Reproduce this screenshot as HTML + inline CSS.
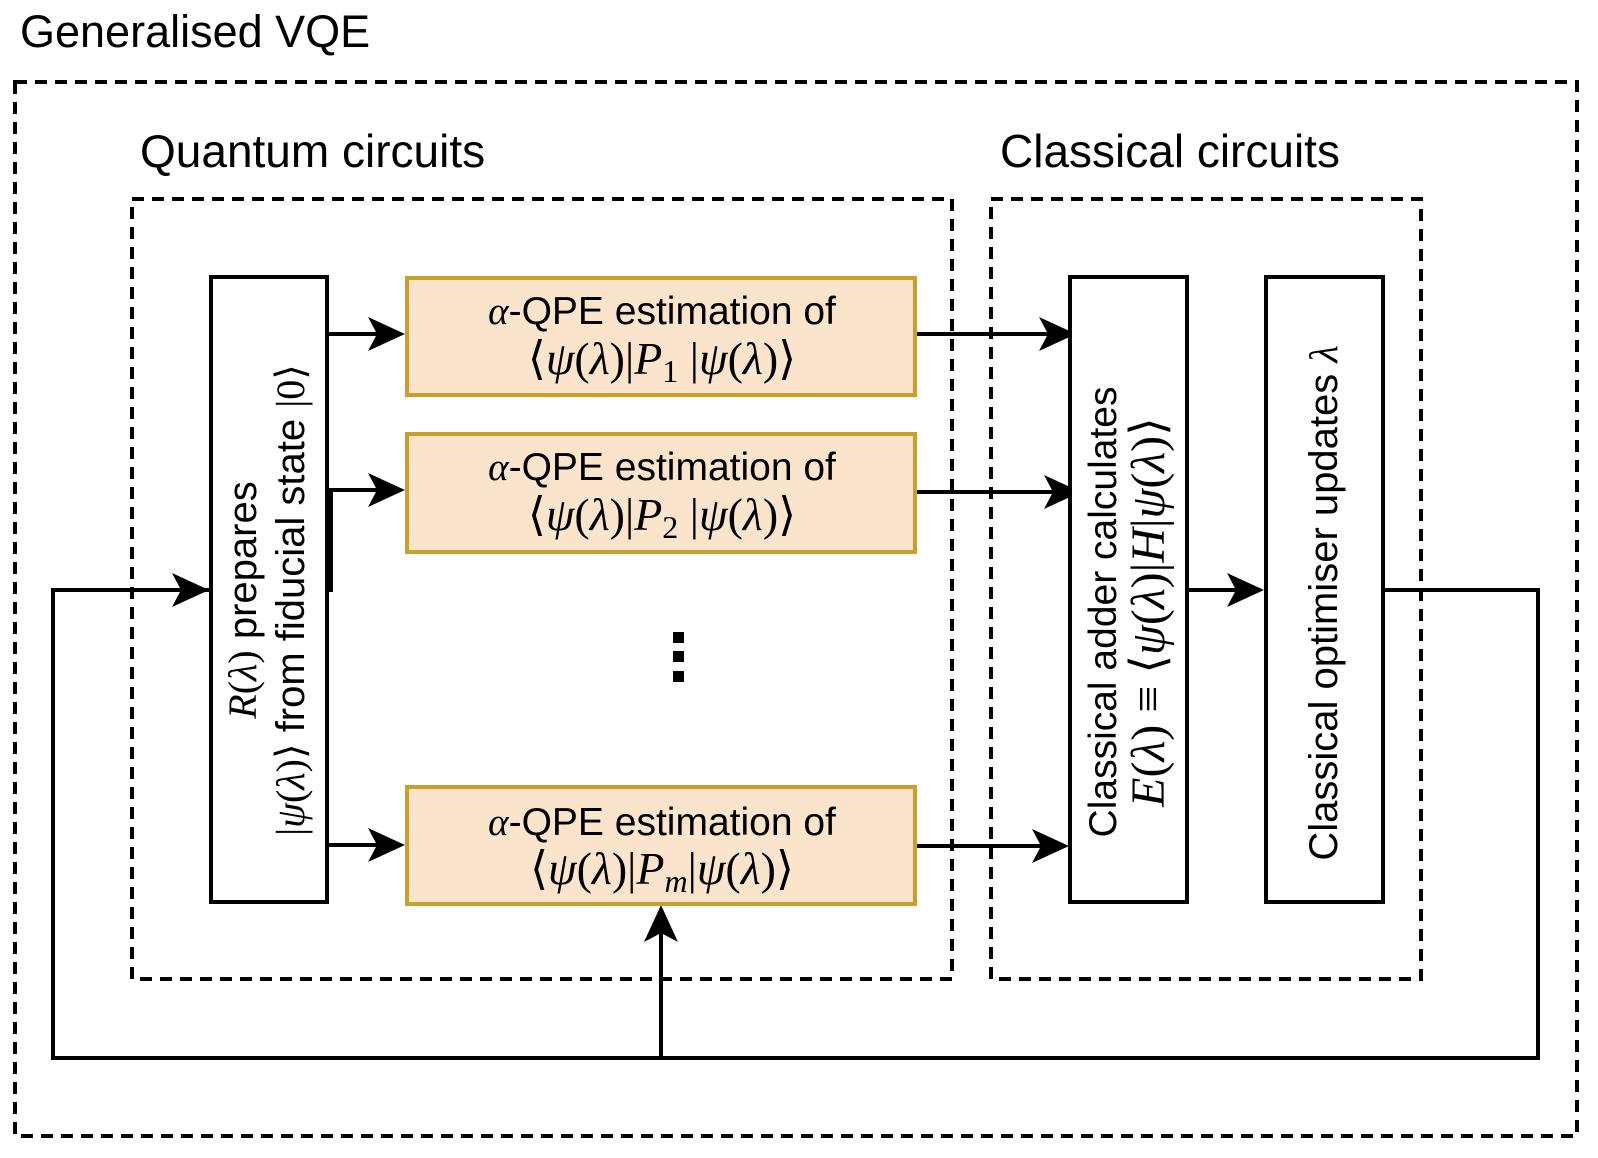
<!DOCTYPE html>
<html><head><meta charset="utf-8"><style>
html,body{margin:0;padding:0;background:#fff}
svg{display:block}
.s{font-family:"Liberation Sans",sans-serif}
.m{font-family:"Liberation Serif","DejaVu Serif",serif}
</style></head><body>
<svg width="1598" height="1158" viewBox="0 0 1598 1158" xmlns="http://www.w3.org/2000/svg">
<text x="20" y="47" class="s" font-size="45">Generalised VQE</text>
<rect x="15" y="82" width="1562" height="1054" fill="none" stroke="#000" stroke-width="4" stroke-dasharray="12 8"/>
<text x="140" y="167" class="s" font-size="46">Quantum circuits</text>
<text x="1000" y="167" class="s" font-size="46">Classical circuits</text>
<rect x="132" y="199" width="820" height="780" fill="none" stroke="#000" stroke-width="4" stroke-dasharray="12 8"/>
<rect x="991" y="199" width="430" height="780" fill="none" stroke="#000" stroke-width="4" stroke-dasharray="12 8"/>

<!-- loop -->
<polyline points="209,590 53,590 53,1058 1538,1058 1538,590 1385,590" fill="none" stroke="#000" stroke-width="4"/>
<line x1="661" y1="1058" x2="661" y2="915" stroke="#000" stroke-width="4"/>
<polygon points="661,905 644,942 661,933 678,942" fill="#000"/>
<polygon points="209,590 172,573 181,590 172,607" fill="#000"/>

<!-- R box -->
<rect x="211" y="277" width="116" height="625" fill="#fff" stroke="#000" stroke-width="4"/>
<g transform="translate(268,600) rotate(-90)">
<text x="0" y="-12" text-anchor="middle" font-size="40"><tspan class="m" font-style="italic">R</tspan><tspan class="m">(</tspan><tspan class="m" font-style="italic">λ</tspan><tspan class="m">)</tspan><tspan class="s"> prepares</tspan></text>
<text x="0" y="36" text-anchor="middle" font-size="40"><tspan class="m">|</tspan><tspan class="m" font-style="italic">ψ</tspan><tspan class="m">(</tspan><tspan class="m" font-style="italic">λ</tspan><tspan class="m">)⟩</tspan><tspan class="s"> from fiducial state </tspan><tspan class="m">|0⟩</tspan></text>
</g>

<!-- arrows R -> boxes -->
<line x1="329" y1="334" x2="395" y2="334" stroke="#000" stroke-width="4"/>
<polygon points="405,334 368,317 377,334 368,351" fill="#000"/>
<polyline points="331,592 331,490 395,490" fill="none" stroke="#000" stroke-width="4"/>
<polygon points="405,490 368,473 377,490 368,507" fill="#000"/>
<line x1="329" y1="845" x2="395" y2="845" stroke="#000" stroke-width="4"/>
<polygon points="405,845 368,828 377,845 368,862" fill="#000"/>

<!-- orange boxes -->
<g fill="#fae5cc" stroke="#cc9e2b" stroke-width="4">
<rect x="407" y="278" width="508" height="117"/>
<rect x="407" y="434" width="508" height="118"/>
<rect x="407" y="787" width="508" height="117"/>
</g>
<g text-anchor="middle">
<text x="662" y="324" font-size="39"><tspan class="m" font-style="italic">α</tspan><tspan class="s">-QPE estimation of</tspan></text>
<text x="662" y="374" class="m" font-size="46">⟨<tspan font-style="italic">ψ</tspan>(<tspan font-style="italic">λ</tspan>)|<tspan font-style="italic">P</tspan><tspan font-size="32" dy="8">1</tspan><tspan dy="-8"> |</tspan><tspan font-style="italic">ψ</tspan>(<tspan font-style="italic">λ</tspan>)⟩</text>
<text x="662" y="480" font-size="39"><tspan class="m" font-style="italic">α</tspan><tspan class="s">-QPE estimation of</tspan></text>
<text x="662" y="530" class="m" font-size="46">⟨<tspan font-style="italic">ψ</tspan>(<tspan font-style="italic">λ</tspan>)|<tspan font-style="italic">P</tspan><tspan font-size="32" dy="8">2</tspan><tspan dy="-8"> |</tspan><tspan font-style="italic">ψ</tspan>(<tspan font-style="italic">λ</tspan>)⟩</text>
<text x="662" y="835" font-size="39"><tspan class="m" font-style="italic">α</tspan><tspan class="s">-QPE estimation of</tspan></text>
<text x="662" y="884" class="m" font-size="46">⟨<tspan font-style="italic">ψ</tspan>(<tspan font-style="italic">λ</tspan>)|<tspan font-style="italic">P</tspan><tspan font-size="32" font-style="italic" dy="8">m</tspan><tspan dy="-8">|</tspan><tspan font-style="italic">ψ</tspan>(<tspan font-style="italic">λ</tspan>)⟩</text>
</g>

<!-- dots -->
<rect x="673" y="632" width="11" height="11" fill="#000"/>
<rect x="673" y="651" width="11" height="11" fill="#000"/>
<rect x="673" y="671" width="11" height="11" fill="#000"/>

<!-- arrows to adder -->
<line x1="917" y1="334" x2="1066" y2="334" stroke="#000" stroke-width="4"/>
<polygon points="1076,334 1039,317 1048,334 1039,351" fill="#000"/>
<line x1="917" y1="492" x2="1071" y2="492" stroke="#000" stroke-width="4"/>
<polygon points="1081,492 1044,475 1053,492 1044,509" fill="#000"/>
<line x1="917" y1="846" x2="1059" y2="846" stroke="#000" stroke-width="4"/>
<polygon points="1069,846 1032,829 1041,846 1032,863" fill="#000"/>

<!-- adder -->
<rect x="1070" y="277" width="117" height="625" fill="#fff" stroke="#000" stroke-width="4"/>
<g transform="translate(1128,612) rotate(-90)">
<text x="0" y="-12" text-anchor="middle" class="s" font-size="39">Classical adder calculates</text>
<text x="0" y="36" text-anchor="middle" class="m" font-size="48"><tspan font-style="italic">E</tspan>(<tspan font-style="italic">λ</tspan>) ≡ ⟨<tspan font-style="italic">ψ</tspan>(<tspan font-style="italic">λ</tspan>)|<tspan font-style="italic">H</tspan>|<tspan font-style="italic">ψ</tspan>(<tspan font-style="italic">λ</tspan>)⟩</text>
</g>
<!-- adder -> optimiser -->
<line x1="1189" y1="590" x2="1254" y2="590" stroke="#000" stroke-width="4"/>
<polygon points="1264,590 1227,573 1236,590 1227,607" fill="#000"/>

<!-- optimiser -->
<rect x="1266" y="277" width="117" height="625" fill="#fff" stroke="#000" stroke-width="4"/>
<g transform="translate(1337,603) rotate(-90)">
<text x="0" y="0" text-anchor="middle" font-size="40"><tspan class="s">Classical optimiser updates </tspan><tspan class="m" font-style="italic">λ</tspan></text>
</g>
</svg>
</body></html>
